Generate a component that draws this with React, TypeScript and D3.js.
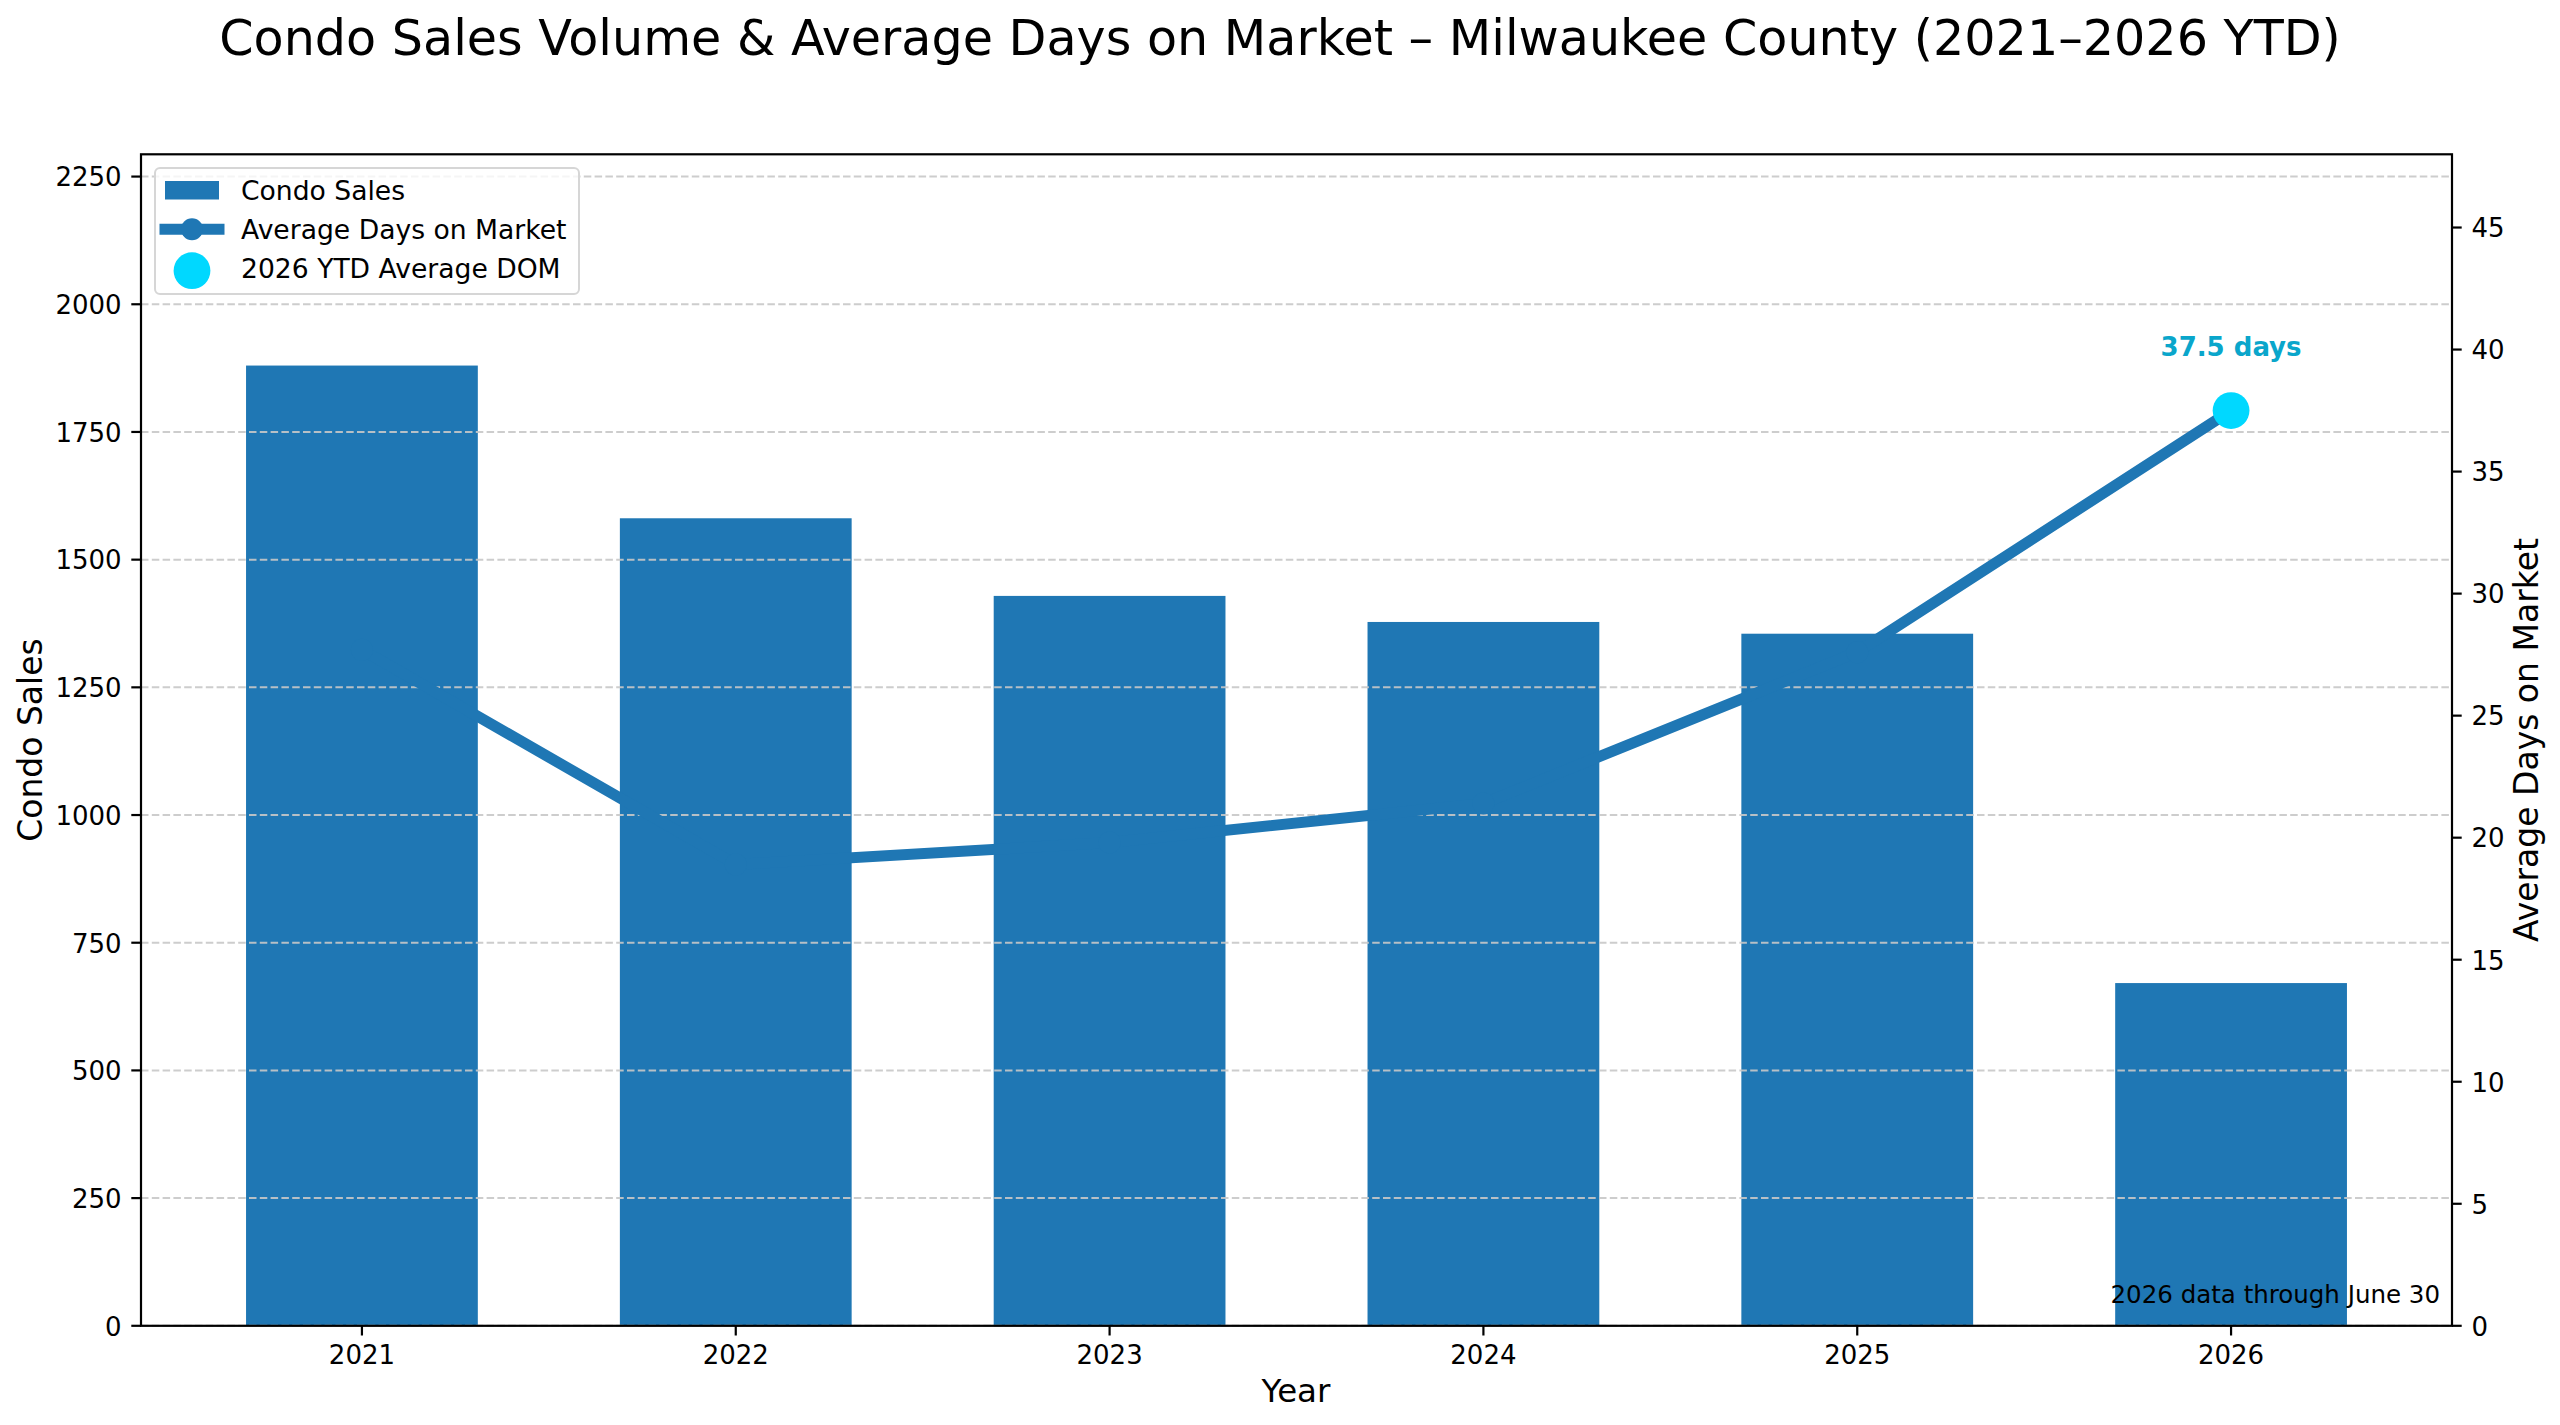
import React, { useEffect } from "react";
import * as d3 from "d3";

const years = ["2021", "2022", "2023", "2024", "2025", "2026"];
const condoSales = [1880, 1581, 1429, 1378, 1355, 671];
const avgDaysOnMarket = [27.7, 18.9, 19.8, 21.4, 27.6, 37.5];
const leftTicks = [0, 250, 500, 750, 1000, 1250, 1500, 1750, 2000, 2250];
const rightTicks = [0, 5, 10, 15, 20, 25, 30, 35, 40, 45];
const ytdIndex = 5;
const ytdLabel = "37.5 days";

const W = 2560;
const H = 1425;
const FONT = "'DejaVu Sans', sans-serif";
const BAR = "#1f77b4";
const CYAN = "#00d8ff";
const CYAN_TEXT = "#0aa6cb";

export default function App() {
  useEffect(() => {
    document.body.style.margin = "0";
    document.body.style.overflow = "hidden";
  }, []);

  const left = 141;
  const right = 2452;
  const top = 154.3;
  const bottom = 1325.8;
  const barW = 0.62;
  const n = years.length;
  const pad = 0.05 * (n - 1 + barW);

  const x = d3
    .scaleLinear()
    .domain([-barW / 2 - pad, n - 1 + barW / 2 + pad])
    .range([left, right]);
  const yL = d3
    .scaleLinear()
    .domain([0, (d3.max(condoSales) as number) * 1.22])
    .range([bottom, top]);
  const yR = d3
    .scaleLinear()
    .domain([0, (d3.max(avgDaysOnMarket) as number) * 1.28])
    .range([bottom, top]);

  const bw = x(barW) - x(0);
  const line = d3
    .line<number>()
    .x((_, i) => x(i))
    .y((d) => yR(d));

  const tickLen = 9.7;
  const tickFont = 26;

  return (
    <svg
      width={W}
      height={H}
      viewBox={`0 0 ${W} ${H}`}
      style={{ position: "absolute", left: 0, top: 0, background: "#fff" }}
      fontFamily={FONT}
    >
      <rect x={0} y={0} width={W} height={H} fill="#fff" />
      {/* title */}
      <text x={1280} y={55} fontSize={49.2} textAnchor="middle" fill="#000">
        Condo Sales Volume &amp; Average Days on Market – Milwaukee County (2021–2026 YTD)
      </text>

      {/* bars */}
      {condoSales.map((v, i) => (
        <rect
          key={years[i]}
          x={x(i) - bw / 2}
          y={yL(v)}
          width={bw}
          height={yL(0) - yL(v)}
          fill={BAR}
        />
      ))}

      {/* grid */}
      {leftTicks.map((t) => (
        <line
          key={"g" + t}
          x1={left}
          x2={right}
          y1={yL(t)}
          y2={yL(t)}
          stroke="#c8c8c8"
          strokeOpacity={0.9}
          strokeWidth={2}
          strokeDasharray="7.5 3.3"
        />
      ))}

      {/* line */}
      <path
        d={line(avgDaysOnMarket) || ""}
        fill="none"
        stroke={BAR}
        strokeWidth={11}
        strokeLinecap="square"
        strokeLinejoin="round"
      />
      {avgDaysOnMarket.map((v, i) => (
        <circle key={"m" + i} cx={x(i)} cy={yR(v)} r={11} fill={BAR} />
      ))}

      {/* YTD point */}
      <circle cx={x(ytdIndex)} cy={yR(avgDaysOnMarket[ytdIndex])} r={18.4} fill={CYAN} />
      <text
        x={x(ytdIndex)}
        y={356}
        fontSize={26}
        fontWeight="bold"
        textAnchor="middle"
        fill={CYAN_TEXT}
      >
        {ytdLabel}
      </text>

      {/* note */}
      <text x={2440} y={1303} fontSize={24.5} textAnchor="end" fill="#000">
        2026 data through June 30
      </text>

      {/* legend */}
      <g>
        <rect
          x={155}
          y={168}
          width={424}
          height={126}
          rx={5}
          ry={5}
          fill="#fff"
          fillOpacity={0.8}
          stroke="#d6d6d6"
          strokeWidth={2}
        />
        <rect x={165} y={181} width={54} height={18.5} fill={BAR} />
        <line
          x1={165}
          x2={219}
          y1={229.3}
          y2={229.3}
          stroke={BAR}
          strokeWidth={11}
          strokeLinecap="square"
        />
        <circle cx={192} cy={229.3} r={11} fill={BAR} />
        <circle cx={192} cy={270.7} r={18.4} fill={CYAN} />
        <text x={241} y={200} fontSize={26.6} fill="#000">
          Condo Sales
        </text>
        <text x={241} y={238.5} fontSize={26.6} fill="#000">
          Average Days on Market
        </text>
        <text x={241} y={277.5} fontSize={26.6} fill="#000">
          2026 YTD Average DOM
        </text>
      </g>

      {/* spines */}
      <rect
        x={left}
        y={top}
        width={right - left}
        height={bottom - top}
        fill="none"
        stroke="#000"
        strokeWidth={2.2}
      />

      {/* left ticks */}
      {leftTicks.map((t) => (
        <g key={"l" + t}>
          <line x1={left - tickLen} x2={left} y1={yL(t)} y2={yL(t)} stroke="#000" strokeWidth={2.2} />
          <text x={left - tickLen - 9.7} y={yL(t) + 9.8} fontSize={tickFont} textAnchor="end" fill="#000">
            {t}
          </text>
        </g>
      ))}

      {/* right ticks */}
      {rightTicks.map((t) => (
        <g key={"r" + t}>
          <line x1={right} x2={right + tickLen} y1={yR(t)} y2={yR(t)} stroke="#000" strokeWidth={2.2} />
          <text x={right + tickLen + 9.7} y={yR(t) + 9.8} fontSize={tickFont} textAnchor="start" fill="#000">
            {t}
          </text>
        </g>
      ))}

      {/* bottom ticks */}
      {years.map((yv, i) => (
        <g key={"b" + yv}>
          <line x1={x(i)} x2={x(i)} y1={bottom} y2={bottom + tickLen} stroke="#000" strokeWidth={2.2} />
          <text x={x(i)} y={1363.5} fontSize={tickFont} textAnchor="middle" fill="#000">
            {yv}
          </text>
        </g>
      ))}

      {/* axis labels */}
      <text x={1296} y={1401.5} fontSize={32.5} textAnchor="middle" fill="#000">
        Year
      </text>
      <text
        transform={`translate(42, ${(top + bottom) / 2}) rotate(-90)`}
        fontSize={33}
        textAnchor="middle"
        fill="#000"
      >
        Condo Sales
      </text>
      <text
        transform={`translate(2538, ${(top + bottom) / 2}) rotate(-90)`}
        fontSize={33}
        textAnchor="middle"
        fill="#000"
      >
        Average Days on Market
      </text>
    </svg>
  );
}
